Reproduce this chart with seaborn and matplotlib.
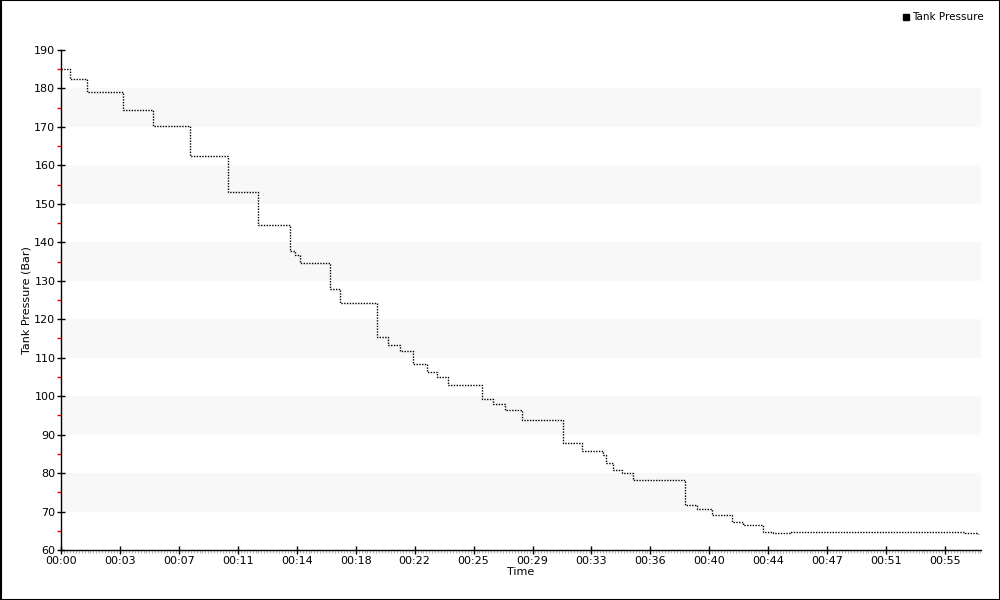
import matplotlib
matplotlib.use("Agg")
import matplotlib.pyplot as plt
import matplotlib.ticker as mticker
from matplotlib.lines import Line2D
from matplotlib.patches import Rectangle
import seaborn as sns
import pandas as pd

# dive log, time in seconds since start, pressure in bar (step changes)
times = [0, 34, 97, 231, 343, 482, 623, 735, 855, 873, 892, 1004, 1041, 1180,
         1221, 1265, 1314, 1366, 1404, 1445, 1572, 1613, 1657, 1721, 1874, 1945,
         2023, 2034, 2061, 2094, 2135, 2329, 2374, 2430, 2505, 2546, 2621, 2658,
         2721, 2822, 3319, 3375, 3423]
pressure = [185.0, 182.5, 179.0, 174.3, 170.3, 162.4, 153.2, 144.6, 137.8, 136.8,
            134.6, 127.8, 124.2, 115.5, 113.3, 111.8, 108.4, 106.4, 105.1, 102.9,
            99.2, 97.9, 96.4, 93.9, 87.8, 85.7, 84.7, 82.5, 80.8, 80.1, 78.2, 71.6,
            70.6, 69.1, 67.4, 66.5, 64.8, 64.3, 64.6, 64.8, 64.6, 64.5, 64.2]

series_name = "Tank Pressure"
x_label = "Time"
y_label = "Tank Pressure (Bar)"

df = pd.DataFrame({"t": times, "p": pressure})

sns.set_style("white")
plt.rcParams['font.family'] = ['DejaVu Sans']
plt.rcParams['text.color'] = 'black'
plt.rcParams['axes.labelcolor'] = 'black'
plt.rcParams['xtick.color'] = 'black'
plt.rcParams['ytick.color'] = 'black'

fig = plt.figure(figsize=(10, 6), dpi=100)
ax = fig.add_axes([0.061, 0.0833, 0.92, 0.8334])

# alternating bands
for lo in range(70, 190, 20):
    ax.axhspan(lo, lo + 10, color="#f8f8f8", zorder=0, lw=0)

sns.lineplot(data=df, x="t", y="p", ax=ax, color="black", linewidth=1,
             linestyle=(0, (1, 1)), drawstyle="steps-post", sort=True)

ax.set_xlim(0, 3434)
ax.set_ylim(60, 190)

# ticks
def fmt_time(s, pos):
    s = int(round(s))
    return f"{s // 3600:02d}:{(s // 60) % 60:02d}"

ax.xaxis.set_major_locator(mticker.MultipleLocator(220))
ax.xaxis.set_major_formatter(mticker.FuncFormatter(fmt_time))
ax.xaxis.set_minor_locator(mticker.MultipleLocator(11))
ax.yaxis.set_major_locator(mticker.MultipleLocator(10))
ax.yaxis.set_minor_locator(mticker.MultipleLocator(5))

ax.tick_params(axis="both", which="both", bottom=True, left=True)
ax.tick_params(axis="both", which="major", direction="inout", length=6,
               width=1, color="black", labelsize=8, pad=1, labelcolor="black")
ax.tick_params(axis="x", which="minor", direction="out", length=2,
               width=0.8, color="#b0b0b0")
ax.tick_params(axis="y", which="minor", direction="out", length=3,
               width=1, color="red")

for side in ["top", "right"]:
    ax.spines[side].set_visible(False)
for side in ["left", "bottom"]:
    ax.spines[side].set_color("black")
    ax.spines[side].set_linewidth(1)

ax.set_xlabel(x_label, fontsize=8, labelpad=1)
ax.set_ylabel(y_label, fontsize=8)
ax.yaxis.set_label_coords(-0.032, 0.5)

# legend top right
handle = Line2D([], [], marker="s", color="black", linestyle="none", markersize=5)
fig.legend([handle], [series_name], loc="upper right", bbox_to_anchor=(0.993, 0.995),
           frameon=False, fontsize=7.5, handlelength=0.6, handletextpad=0.3)

# figure border
fig.patches.append(Rectangle((0.0005, 0.0008), 0.999, 0.9984, transform=fig.transFigure,
                             fill=False, edgecolor="black", linewidth=1.5))

fig.savefig("out.png", dpi=100)
